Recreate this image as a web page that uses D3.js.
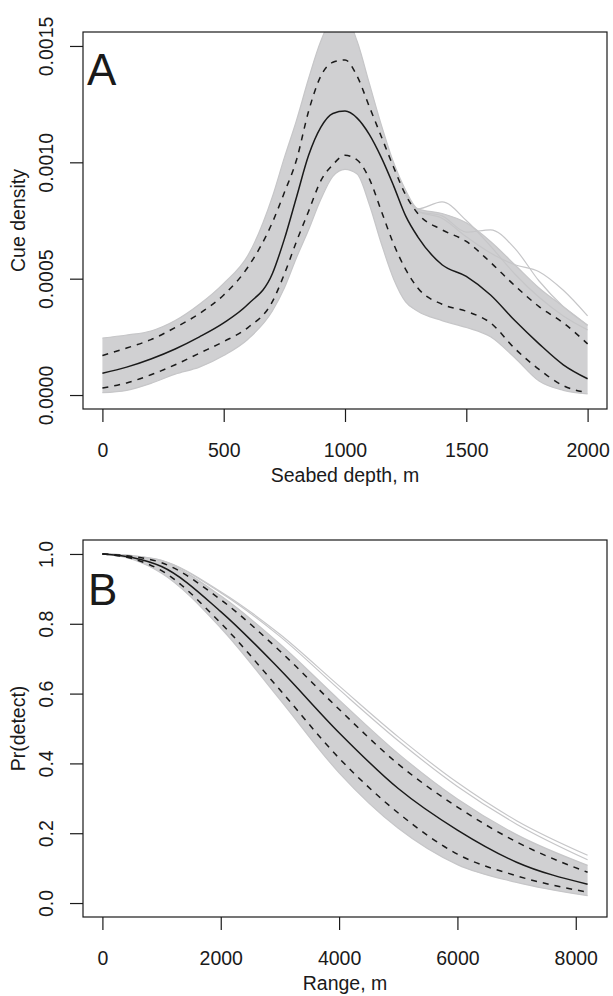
<!DOCTYPE html>
<html>
<head>
<meta charset="utf-8">
<script src="https://cdn.jsdelivr.net/npm/d3@7"></script>
<style>
  body { margin: 0; background: #fff; }
  text { font-family: "Liberation Sans", Arial, sans-serif; fill: #1a1a1a; }
</style>
</head>
<body>
<div id="chart"></div>
<script>
// Panel A: cue density vs seabed depth
var depthA = [0,100,200,300,400,500,600,700,750,800,850,900,950,1000,1050,1100,1150,1200,1250,1300,1400,1500,1600,1700,1800,1900,2000]
var meanA  = [0.000094,0.000120,0.000155,0.000198,0.00025,0.00031,0.00039,0.00052,0.00067,0.00085,0.00103,0.00115,0.00121,0.00122,0.00119,0.00112,0.00102,0.00090,0.00077,0.00068,0.00056,0.00051,0.00043,0.00032,0.00022,0.00013,0.00007]
var upperA = [0.00017,0.000202,0.000238,0.00029,0.00035,0.00043,0.00055,0.00074,0.00087,0.00101,0.00122,0.00137,0.00143,0.00144,0.00137,0.00124,0.00111,0.00098,0.00086,0.00078,0.00071,0.00066,0.00057,0.00047,0.00038,0.00031,0.00022]
var lowerA = [0.00003,0.000052,0.000087,0.00013,0.00018,0.00023,0.00029,0.00040,0.00052,0.00066,0.00079,0.00092,0.00099,0.00103,0.00101,0.00093,0.00079,0.00065,0.00054,0.00046,0.00039,0.00036,0.00031,0.00020,0.00011,0.00004,0.00001]
var bootHiA = [0.000245,0.000258,0.000275,0.00032,0.00039,0.00048,0.00060,0.00085,0.00102,0.00118,0.00136,0.00152,0.00162,0.00163,0.00152,0.00134,0.00116,0.00100,0.00088,0.00080,0.00078,0.00074,0.00066,0.00056,0.00046,0.00038,0.00030]
var bootLoA = [0.00001,0.00002,0.00005,0.00009,0.00012,0.00017,0.00024,0.00036,0.00046,0.00059,0.00071,0.00084,0.00094,0.00097,0.00095,0.00082,0.00065,0.00050,0.00040,0.00036,0.00032,0.00029,0.00025,0.00016,0.00006,0.00002,0.000005]
// a few bootstrap curves that stand out above the band in the tail
var tailDepthA = [1250,1300,1400,1500,1600,1700,1800,1900,2000]
var outlier1A = [0.00087,0.00080,0.00083,0.00075,0.00064,0.00052,0.00042,0.00034,0.00028]
var outlier2A = [0.00086,0.00079,0.00077,0.00070,0.00071,0.00063,0.00049,0.00038,0.00030]
var outlier3A = [0.00086,0.00079,0.00076,0.00068,0.00061,0.00056,0.00053,0.00045,0.00034]
var xTicksA = [0,500,1000,1500,2000]
var yTicksA = [0,0.0005,0.0010,0.0015]

// Panel B: detection probability vs range
var rangeB  = [0,500,1000,2000,3000,4000,5000,6000,7000,8200]
var meanB   = [1.0,0.99,0.964,0.835,0.669,0.488,0.328,0.209,0.117,0.054]
var upperB  = [1.0,0.993,0.975,0.869,0.722,0.555,0.398,0.275,0.175,0.088]
var lowerB  = [1.0,0.987,0.952,0.802,0.611,0.415,0.258,0.140,0.078,0.031]
var bootHiB = [1.0,0.994,0.979,0.880,0.742,0.582,0.428,0.298,0.196,0.108]
var bootLoB = [1.0,0.985,0.945,0.788,0.583,0.373,0.214,0.110,0.059,0.021]
var outlier1B = [1.0,0.995,0.982,0.892,0.770,0.622,0.476,0.345,0.236,0.137]
var outlier2B = [1.0,0.995,0.981,0.889,0.764,0.612,0.465,0.334,0.226,0.124]
var xTicksB = [0,2000,4000,6000,8000]
var yTicksB = [0,0.2,0.4,0.6,0.8,1.0]

var width = 613, height = 996
var left = 83, right = 607
var fontSize = 19.5

var svg = d3.select("#chart").append("svg")
  .attr("width", width)
  .attr("height", height)

function panel(opts){
  var x = d3.scaleLinear().domain(opts.xDomain).range([left, right])
  var y = d3.scaleLinear().domain(opts.yDomain).range([opts.bottom, opts.top])

  var clipId = "clip" + opts.letter
  svg.append("clipPath").attr("id", clipId)
    .append("rect")
    .attr("x", left).attr("y", opts.top)
    .attr("width", right-left).attr("height", opts.bottom-opts.top)

  var g = svg.append("g").attr("clip-path", "url(#" + clipId + ")")

  var pts = function(xs, arr){ return xs.map(function(v, i){ return [v, arr[i]] }) }

  var line = d3.line()
    .x(function(d){ return x(d[0]) })
    .y(function(d){ return y(d[1]) })
    .curve(d3.curveMonotoneX)

  var area = d3.area()
    .x(function(d){ return x(d[0]) })
    .y0(function(d){ return y(d[2]) })
    .y1(function(d){ return y(d[1]) })
    .curve(d3.curveMonotoneX)

  // grey band of bootstrap curves
  var band = opts.xs.map(function(v, i){ return [v, opts.hi[i], opts.lo[i]] })
  g.append("path")
    .attr("d", area(band))
    .attr("fill", "#d0d0d2")

  var greyLines = [[opts.xs, opts.hi], [opts.xs, opts.lo]].concat(opts.extra || [])
  greyLines.forEach(function(pair){
    g.append("path")
      .attr("d", line(pts(pair[0], pair[1])))
      .attr("fill", "none")
      .attr("stroke", "#c6c6c8")
      .attr("stroke-width", 1.2)
  })

  // quantile lines
  ;[opts.upper, opts.lower].forEach(function(arr){
    g.append("path")
      .attr("d", line(pts(opts.xs, arr)))
      .attr("fill", "none")
      .attr("stroke", "#1a1a1a")
      .attr("stroke-width", 1.5)
      .attr("stroke-dasharray", "6,6")
  })

  g.append("path")
    .attr("d", line(pts(opts.xs, opts.mean)))
    .attr("fill", "none")
    .attr("stroke", "#1a1a1a")
    .attr("stroke-width", 1.5)

  // box
  svg.append("rect")
    .attr("x", left).attr("y", opts.top)
    .attr("width", right-left).attr("height", opts.bottom-opts.top)
    .attr("fill", "none")
    .attr("stroke", "#1a1a1a")
    .attr("stroke-width", 1.2)

  // axes
  var xaxis = d3.axisBottom(x)
    .tickValues(opts.xTicks)
    .tickSize(13)
    .tickPadding(21)
    .tickFormat(d3.format("d"))

  var gx = svg.append("g")
    .attr("transform", "translate(0," + opts.bottom + ")")
    .call(xaxis)
  gx.select(".domain").remove()
  gx.selectAll("line").attr("stroke", "#1a1a1a").attr("stroke-width", 1.2)
  gx.selectAll("text")
    .attr("font-size", fontSize)
    .attr("font-family", null)
    .attr("fill", null)

  var yaxis = d3.axisLeft(y)
    .tickValues(opts.yTicks)
    .tickSize(13)
    .tickFormat(d3.format(opts.yFormat))

  var gy = svg.append("g")
    .attr("transform", "translate(" + left + ",0)")
    .call(yaxis)
  gy.select(".domain").remove()
  gy.selectAll("line").attr("stroke", "#1a1a1a").attr("stroke-width", 1.2)
  gy.selectAll("text")
    .attr("x", null).attr("dy", null)
    .attr("font-size", fontSize)
    .attr("font-family", null)
    .attr("fill", null)
    .attr("text-anchor", "middle")
    .attr("transform", "translate(-30,0) rotate(-90)")

  // titles
  svg.append("text")
    .attr("x", (left+right)/2)
    .attr("y", opts.bottom + 73)
    .attr("text-anchor", "middle")
    .attr("font-size", fontSize)
    .text(opts.xLabel)

  svg.append("text")
    .attr("transform", "translate(25," + (opts.top+opts.bottom)/2 + ") rotate(-90)")
    .attr("text-anchor", "middle")
    .attr("font-size", fontSize)
    .text(opts.yLabel)

  svg.append("text")
    .attr("x", opts.letterX)
    .attr("y", opts.letterY)
    .attr("font-size", 44)
    .text(opts.letter)
}

panel({
  letter: "A", letterX: 87, letterY: 85,
  top: 32, bottom: 409,
  xDomain: [-80, 2080], yDomain: [-0.00006, 0.00156],
  xs: depthA, mean: meanA, upper: upperA, lower: lowerA, hi: bootHiA, lo: bootLoA,
  extra: [[tailDepthA, outlier1A], [tailDepthA, outlier2A], [tailDepthA, outlier3A]],
  xTicks: xTicksA, yTicks: yTicksA, yFormat: ".4f",
  xLabel: "Seabed depth, m", yLabel: "Cue density"
})

panel({
  letter: "B", letterX: 88, letterY: 605,
  top: 540, bottom: 917,
  xDomain: [-328, 8528], yDomain: [-0.04, 1.04],
  xs: rangeB, mean: meanB, upper: upperB, lower: lowerB, hi: bootHiB, lo: bootLoB,
  extra: [[rangeB, outlier1B], [rangeB, outlier2B]],
  xTicks: xTicksB, yTicks: yTicksB, yFormat: ".1f",
  xLabel: "Range, m", yLabel: "Pr(detect)"
})
</script>
</body>
</html>
